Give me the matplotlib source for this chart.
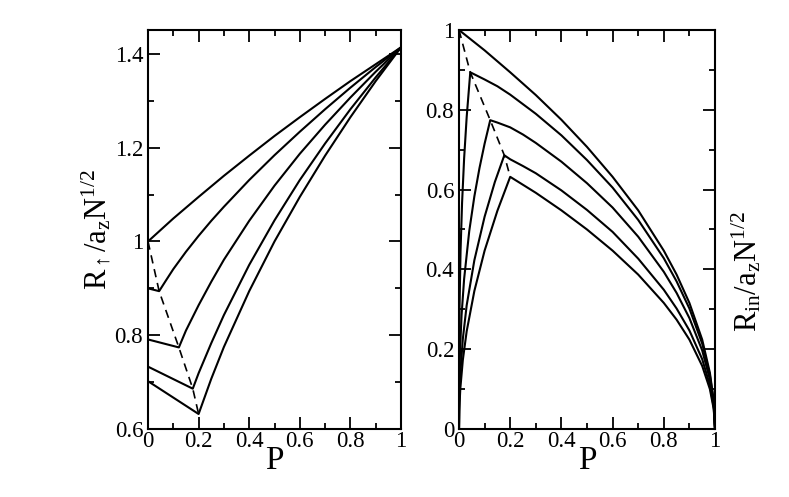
import matplotlib
matplotlib.use("Agg")
import matplotlib.pyplot as plt
from matplotlib.ticker import MultipleLocator, FuncFormatter

plt.rcParams["font.family"] = ["Liberation Serif", "DejaVu Serif"]
plt.rcParams["mathtext.fontset"] = "custom"
plt.rcParams["mathtext.rm"] = "Liberation Serif"
plt.rcParams["mathtext.it"] = "Liberation Serif:italic"

# left panel: R_up / a_z N^(1/2)
up1_p = [0, 0.1, 0.2, 0.3, 0.4, 0.5, 0.6, 0.7, 0.8, 0.9, 1.0]
up1_r = [1.0, 1.049, 1.095, 1.140, 1.183, 1.225, 1.265, 1.304, 1.342, 1.378, 1.414]
up2_p = [0, 0.044, 0.07, 0.1, 0.15, 0.2, 0.25, 0.3, 0.4, 0.5, 0.6, 0.7, 0.8, 0.9, 1.0]
up2_r = [0.900, 0.894, 0.916, 0.941, 0.978, 1.012, 1.044, 1.074, 1.131, 1.184, 1.234, 1.282, 1.328, 1.372, 1.414]
up3_p = [0, 0.122, 0.15, 0.2, 0.25, 0.3, 0.4, 0.5, 0.6, 0.7, 0.8, 0.9, 1.0]
up3_r = [0.791, 0.774, 0.810, 0.864, 0.914, 0.961, 1.044, 1.119, 1.187, 1.249, 1.307, 1.362, 1.414]
up4_p = [0, 0.177, 0.2, 0.25, 0.3, 0.4, 0.5, 0.6, 0.7, 0.8, 0.9, 1.0]
up4_r = [0.733, 0.686, 0.719, 0.783, 0.843, 0.950, 1.045, 1.131, 1.209, 1.282, 1.350, 1.414]
up5_p = [0, 0.2, 0.25, 0.3, 0.4, 0.5, 0.6, 0.7, 0.8, 0.9, 1.0]
up5_r = [0.702, 0.632, 0.707, 0.775, 0.894, 1.0, 1.095, 1.183, 1.265, 1.342, 1.414]

# right panel: R_in / a_z N^(1/2)
in1_p = [0, 0.1, 0.2, 0.3, 0.4, 0.5, 0.6, 0.7, 0.8, 0.85, 0.9, 0.95, 0.98, 0.995, 1.0]
in1_r = [1.0, 0.949, 0.894, 0.837, 0.775, 0.707, 0.632, 0.548, 0.447, 0.387, 0.316, 0.224, 0.141, 0.071, 0.0]
in2_p = [0, 0.0005, 0.002, 0.006, 0.012, 0.02, 0.03, 0.044, 0.1, 0.15, 0.2, 0.25, 0.3, 0.4,
         0.5, 0.6, 0.7, 0.8, 0.85, 0.9, 0.95, 0.98, 0.995, 1.0]
in2_r = [0.0, 0.187, 0.303, 0.445, 0.567, 0.678, 0.782, 0.894, 0.876, 0.859, 0.838, 0.814, 0.790, 0.736,
         0.674, 0.605, 0.524, 0.428, 0.370, 0.302, 0.214, 0.135, 0.068, 0.0]
in3_p = [0, 0.001, 0.004, 0.01, 0.02, 0.04, 0.06, 0.08, 0.1, 0.122, 0.15, 0.2, 0.25, 0.3, 0.4,
         0.5, 0.6, 0.7, 0.8, 0.85, 0.9, 0.95, 0.98, 0.995, 1.0]
in3_r = [0.0, 0.113, 0.197, 0.285, 0.376, 0.496, 0.583, 0.654, 0.715, 0.774, 0.768, 0.756, 0.738, 0.717, 0.670,
         0.616, 0.555, 0.482, 0.394, 0.341, 0.278, 0.197, 0.124, 0.062, 0.0]
in4_p = [0, 0.001, 0.005, 0.015, 0.03, 0.06, 0.1, 0.14, 0.177, 0.2, 0.25, 0.3, 0.4,
         0.5, 0.6, 0.7, 0.8, 0.85, 0.9, 0.95, 0.98, 0.995, 1.0]
in4_r = [0.0, 0.067, 0.138, 0.226, 0.310, 0.423, 0.532, 0.619, 0.686, 0.676, 0.659, 0.641, 0.598,
         0.549, 0.494, 0.427, 0.349, 0.302, 0.247, 0.175, 0.110, 0.055, 0.0]
in5_p = [0, 0.001, 0.005, 0.015, 0.03, 0.06, 0.1, 0.15, 0.2, 0.25, 0.3, 0.4,
         0.5, 0.6, 0.7, 0.8, 0.85, 0.9, 0.95, 0.98, 0.995, 1.0]
in5_r = [0.0, 0.045, 0.100, 0.173, 0.245, 0.346, 0.447, 0.547, 0.632, 0.612, 0.592, 0.548,
         0.500, 0.447, 0.387, 0.316, 0.274, 0.224, 0.158, 0.100, 0.050, 0.0]

# dashed line through the kinks (same in both panels)
kink_p = [0, 0.044, 0.122, 0.177, 0.2]
kink_r = [1.0, 0.894, 0.774, 0.686, 0.632]

up_curves = [(up1_p, up1_r), (up2_p, up2_r), (up3_p, up3_r), (up4_p, up4_r), (up5_p, up5_r)]
in_curves = [(in1_p, in1_r), (in2_p, in2_r), (in3_p, in3_r), (in4_p, in4_r), (in5_p, in5_r)]

fig = plt.figure(figsize=(7.89, 4.97), dpi=100)
ax1 = fig.add_axes([148 / 789, 1 - 429 / 497, 253 / 789, 399 / 497])
ax2 = fig.add_axes([459 / 789, 1 - 429 / 497, 256 / 789, 399 / 497])

fmt = FuncFormatter(lambda v, pos: ("%g" % round(v, 2)))

def style(ax):
    ax.xaxis.set_major_locator(MultipleLocator(0.2))
    ax.xaxis.set_minor_locator(MultipleLocator(0.1))
    ax.yaxis.set_major_locator(MultipleLocator(0.2))
    ax.yaxis.set_minor_locator(MultipleLocator(0.1))
    ax.xaxis.set_major_formatter(fmt)
    ax.yaxis.set_major_formatter(fmt)
    ax.tick_params(which="both", direction="in", top=True, right=True,
                   width=1.3, labelsize=16.5, pad=3.5)
    ax.tick_params(axis="x", pad=1.5)
    ax.tick_params(which="major", length=8.5)
    ax.tick_params(which="minor", length=4.3)
    for s in ax.spines.values():
        s.set_linewidth(1.5)
    ax.set_xlabel("P", fontsize=24, labelpad=-5)

for p, r in up_curves:
    ax1.plot(p, r, color="black", lw=1.5)
ax1.plot(kink_p, kink_r, color="black", lw=1.2, dashes=(5, 3.5))
ax1.set_xlim(0, 1)
ax1.set_ylim(0.6, 1.451)
style(ax1)
ax1.text(-0.205, 0.5, r"$\mathrm{R_{\uparrow}/a_zN^{1/2}}$", fontsize=22,
         rotation=90, ha="center", va="center", transform=ax1.transAxes)

for p, r in in_curves:
    ax2.plot(p, r, color="black", lw=1.5)
ax2.plot(kink_p, kink_r, color="black", lw=1.2, dashes=(5, 3.5))
ax2.set_xlim(0, 1)
ax2.set_ylim(0, 1)
style(ax2)
ax2.text(1.125, 0.395, r"$\mathrm{R_{in}/a_zN^{1/2}}$", fontsize=22,
         rotation=90, ha="center", va="center", transform=ax2.transAxes)

fig.savefig("out.png", dpi=100)
